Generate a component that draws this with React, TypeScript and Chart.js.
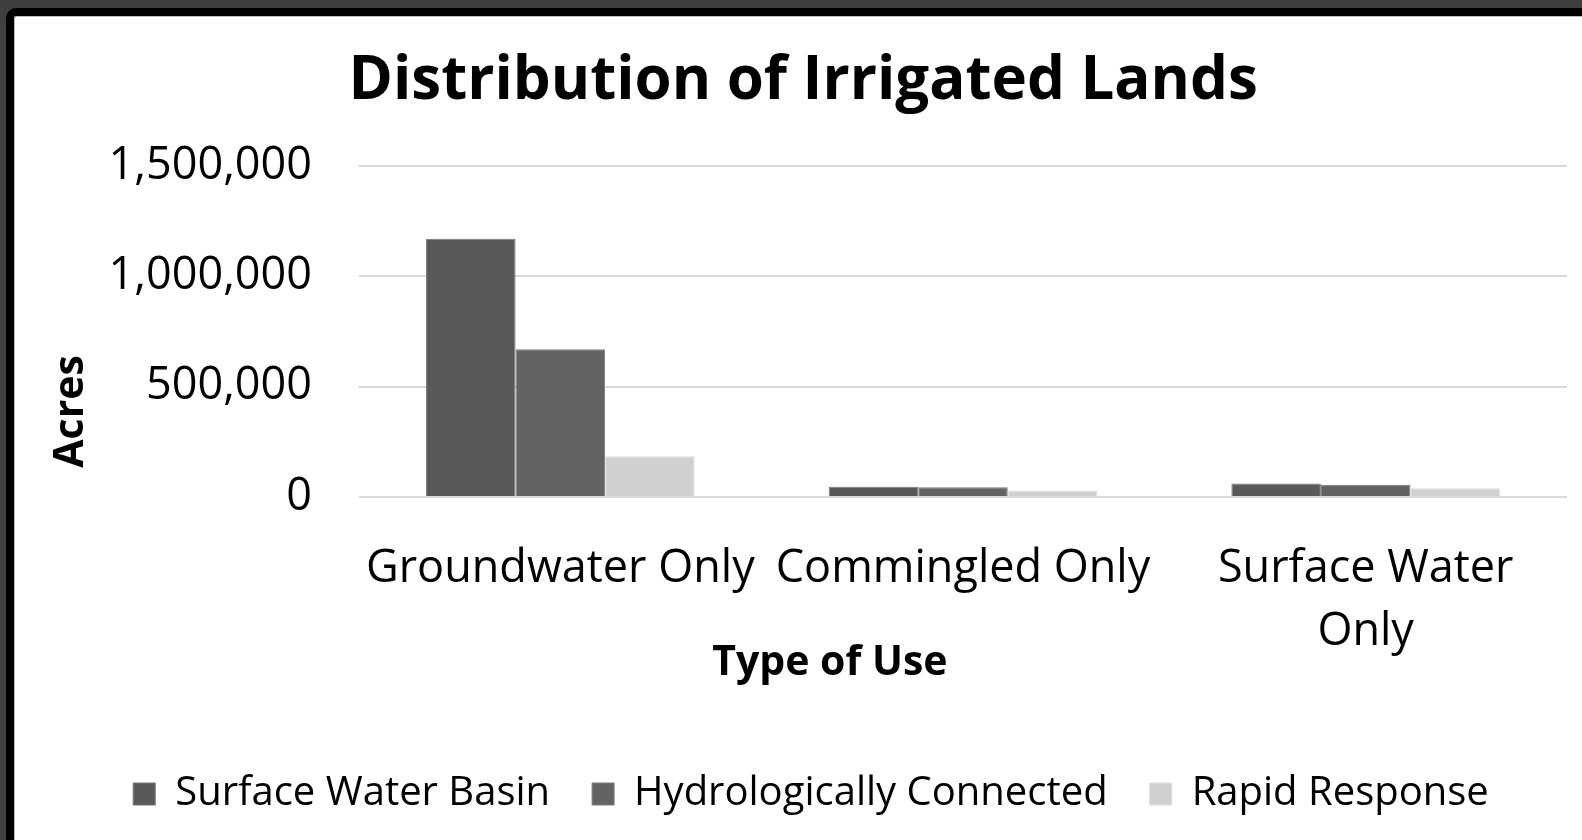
import React, { useEffect, useRef } from 'react';
import { Chart, registerables } from 'chart.js';

Chart.register(...registerables);

const categories: (string | string[])[] = ['Groundwater Only', 'Commingled Only', ['Surface Water', 'Only']];
const seriesNames = ['Surface Water Basin', 'Hydrologically Connected', 'Rapid Response'];
const surfaceWaterBasin = [1170000, 47000, 61000];
const hydrologicallyConnected = [670000, 44000, 56000];
const rapidResponse = [185000, 30000, 40000];
const yMin = 0;
const yMax = 1500000;
const yStep = 500000;

const chartTitle = 'Distribution of Irrigated Lands';
const xTitle = 'Type of Use';
const yTitle = 'Acres';

const seriesColors = ['#595959', '#636363', '#d0d0d0'];
const seriesBorders = ['#757575', '#7d7d7d', '#dedede'];

const FONT = "'Open Sans', 'Noto Sans', sans-serif";

export default function App() {
  const ref = useRef<HTMLCanvasElement | null>(null);

  useEffect(() => {
    document.body.style.margin = '0';
    const canvas = ref.current;
    if (!canvas) return;
    const values = [surfaceWaterBasin, hydrologicallyConnected, rapidResponse];
    const chart = new Chart(canvas, {
      type: 'bar',
      data: {
        labels: categories,
        datasets: seriesNames.map((name, i) => ({
          label: name,
          data: values[i],
          backgroundColor: seriesColors[i],
          borderColor: seriesBorders[i],
          borderWidth: 1,
          categoryPercentage: 0.667,
          barPercentage: 1,
        })),
      },
      options: {
        responsive: false,
        animation: false,
        layout: { padding: { left: 55, right: 15, top: 0, bottom: 16 } },
        plugins: {
          title: {
            display: true,
            text: chartTitle + ' ',
            color: '#000',
            font: { family: FONT, size: 60, weight: 'bold', lineHeight: 1.2 },
            padding: { top: 46, bottom: 48 },
          },
          legend: {
            position: 'bottom',
            labels: {
              color: '#000',
              font: { family: FONT, size: 40, lineHeight: 1.2 },
              boxWidth: 22,
              boxHeight: 22,
              padding: 42,
            },
          },
          tooltip: { enabled: false },
        },
        scales: {
          x: {
            grid: { display: false, drawTicks: false },
            border: { display: false },
            ticks: {
              color: '#000',
              font: { family: FONT, size: 45, lineHeight: 1.39 },
              padding: 41,
              maxRotation: 0,
              autoSkip: false,
            },
            title: {
              display: true,
              text: xTitle + ' '.repeat(25),
              color: '#000',
              font: { family: FONT, size: 41, weight: 'bold', lineHeight: 1.2 },
              padding: { top: 0, bottom: 44 },
            },
            afterFit: (scale: any) => {
              scale.height = 235;
            },
          },
          y: {
            min: yMin,
            max: yMax,
            ticks: {
              stepSize: yStep,
              color: '#000',
              font: { family: FONT, size: 45 },
              padding: 47,
              callback: (v: any) => Number(v).toLocaleString('en-US'),
            },
            grid: { color: '#d9d9d9', lineWidth: 2, drawTicks: false },
            border: { display: false },
            title: {
              display: true,
              text: yTitle + ' '.repeat(15),
              color: '#000',
              font: { family: FONT, size: 41, weight: 'bold', lineHeight: 1.2 },
              padding: { top: -8, bottom: 0 },
            },
            afterFit: (scale: any) => {
              scale.width = 304;
            },
          },
        },
      },
    });
    return () => chart.destroy();
  }, []);

  return (
    <div style={{ position: 'fixed', left: 0, top: 0, width: 1582, height: 840, overflow: 'hidden', background: '#3f3f3f' }}>
      <div
        style={{
          position: 'absolute',
          left: 6,
          top: 8,
          width: 1700,
          height: 1000,
          border: '8px solid #000',
          borderRadius: 10,
          background: '#fff',
          boxShadow: 'inset 1px 1px 0 #bdbdbd',
        }}
      />
      <canvas ref={ref} width={1582} height={840} style={{ position: 'absolute', left: 0, top: 0, width: 1582, height: 840 }} />
    </div>
  );
}
